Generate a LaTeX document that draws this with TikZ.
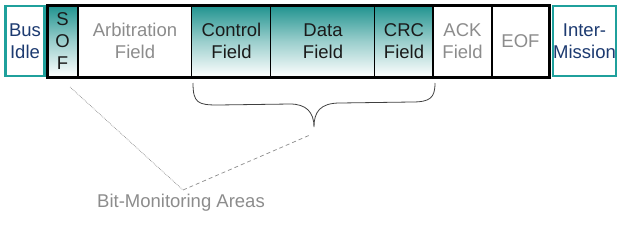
\documentclass[tikz,border=0pt]{standalone}
\usepackage{fontspec}
\setmainfont{Liberation Sans}
\usetikzlibrary{positioning,calc}
\definecolor{canteal}{HTML}{1E928E}
\definecolor{canframe}{HTML}{1FA09C}
\definecolor{navy}{HTML}{1C3A70}
\definecolor{greytext}{HTML}{8C8C8C}
\definecolor{ink}{HTML}{1A1A1A}

\begin{document}
\begin{tikzpicture}[x=1pt,y=-1pt,
    lbl/.style={font=\fontsize{18.5}{22}\selectfont,align=center,inner sep=0pt},
    idlebox/.style={draw=canframe,line width=2.5pt,fill=white,lbl,text=navy,
      minimum height=70pt},
    fieldbox/.style={lbl,minimum height=72pt,inner sep=0pt}]
  \useasboundingbox (0,0) rectangle (628,244);
  % bus idle / intermission
  \node[idlebox,minimum width=39pt] (idle) at (25,41) {Bus\\Idle};
  \node[idlebox,minimum width=62pt] (inter) at (584.5,41) {Inter-\\Mission};
  % frame fields: left/right/name/text/kind
  \foreach \l/\r/\n/\t/\k in {47/78/sof/S\\O\\F/1,78/192/arb/Arbitration\\Field/0,
      192/271/ctl/Control\\Field/1,271/375/dat/Data\\Field/1,375/433/crc/CRC\\Field/1,
      433/492/ack/ACK\\Field/0,492/549/eof/EOF/0}{
    \ifnum\k=1
      \shade[top color=canteal,bottom color=white,middle color=canteal!45]
        (\l,5) rectangle (\r,77);
      \node[fieldbox,text=ink] (\n) at ({(\l+\r)/2},41) {\t};
    \else
      \node[fieldbox,text=greytext] (\n) at ({(\l+\r)/2},41) {\t};
    \fi
    \draw[line width=2.5pt] (\r,5) -- (\r,77);
  }
  \draw[line width=3pt] (47,5) rectangle (549,77);
  % brace under control, data and crc
  \coordinate (bl) at (193,83);
  \coordinate (br) at (435,83);
  \coordinate (tip) at (314,127);
  \draw[black!75,line width=0.8pt] (bl) .. controls (193,103) and (198,105) .. (218,105)
    -- (290,104) .. controls (306,104) and (314,112) .. (tip)
    .. controls (314,112) and (320,103) .. (340,103)
    -- (412,102) .. controls (430,102) and (435,98) .. (br);
  % pointer lines to the label
  \node[font=\fontsize{18.5}{22}\selectfont,text=greytext,inner sep=0pt] (bma) at (181,203)
    {Bit-Monitoring Areas};
  \coordinate (apex) at (183,190);
  \coordinate (sofend) at (70,87);
  \coordinate (braceend) at (310,135);
  \draw[greytext,densely dotted,line width=0.7pt] (sofend) -- (apex);
  \draw[greytext,dash pattern=on 4pt off 3pt,line width=0.7pt] (apex) -- (braceend);
\end{tikzpicture}
\end{document}
